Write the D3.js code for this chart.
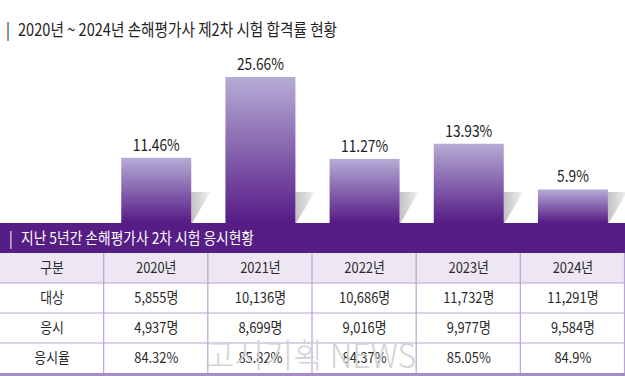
<!DOCTYPE html>
<html>
<head>
<meta charset="utf-8">
<script src="https://cdn.jsdelivr.net/npm/d3@7"></script>
<style>
  body { margin: 0; background: #fff; }
  svg { display: block; font-family: "Noto Sans CJK KR", "Noto Sans", sans-serif; }
</style>
</head>
<body>
<div id="chart"></div>
<script>
// data
const years = ["2020년", "2021년", "2022년", "2023년", "2024년"];
const passRates = [11.46, 25.66, 11.27, 13.93, 5.9];
const rowNames = ["대상", "응시", "응시율"];
const targets = ["5,855명", "10,136명", "10,686명", "11,732명", "11,291명"];
const takers = ["4,937명", "8,699명", "9,016명", "9,977명", "9,584명"];
const takeRates = ["84.32%", "85.82%", "84.37%", "85.05%", "84.9%"];
const headCol = "구분";
const title = "2020년 ~ 2024년 손해평가사 제2차 시험 합격률 현황";
const tableTitle = "지난 5년간 손해평가사 2차 시험 응시현황";
const mark = "고시기획 NEWS";

const W = 625, H = 376;
const purple = "#561d85";
const base = 223, bandH = 30, rowH = 30;
const colW = W / 6;

const svg = d3.select("#chart").append("svg")
  .attr("width", W).attr("height", H);

const defs = svg.append("defs");
const bg = defs.append("linearGradient").attr("id", "barGrad")
  .attr("x1", 0).attr("y1", 0).attr("x2", 0).attr("y2", 1);
bg.append("stop").attr("offset", "0%").attr("stop-color", "#b6acd6");
bg.append("stop").attr("offset", "100%").attr("stop-color", "#561b86");
const sg = defs.append("linearGradient").attr("id", "shGrad")
  .attr("x1", 0).attr("y1", 0).attr("x2", 1).attr("y2", 0);
sg.append("stop").attr("offset", "0%").attr("stop-color", "#c2c2c2");
sg.append("stop").attr("offset", "100%").attr("stop-color", "#f0f0f0");

// condensed text helper
const sq = 0.86;
function ctext(g, x, y, str, size, anchor, color) {
  return g.append("text")
    .attr("transform", `translate(${x},${y}) scale(${sq},1)`)
    .attr("text-anchor", anchor)
    .attr("font-size", size)
    .attr("fill", color)
    .text(str);
}

// title
ctext(svg, 6, 36, "|", 17, "start", "#222");
ctext(svg, 18, 36, title, 17, "start", "#222");

// scales
const x = d3.scaleBand().domain(years).range([colW, W])
  .paddingInner(0.328).paddingOuter(0.164);
const y = d3.scaleLinear().domain([0, 30]).range([base, base - 30 * 5.69]);

// shadows
svg.append("g").selectAll("polygon").data(years).join("polygon")
  .attr("points", d => {
    const r = x(d) + x.bandwidth();
    return [[r, base - 31], [r + 19, base - 31], [r + 1, base], [r, base]].join(" ");
  })
  .attr("fill", "url(#shGrad)");

// bars
svg.append("g").selectAll("rect").data(passRates).join("rect")
  .attr("x", (d, i) => x(years[i]))
  .attr("y", d => y(d))
  .attr("width", x.bandwidth())
  .attr("height", d => base - y(d))
  .attr("fill", "url(#barGrad)");

const lab = svg.append("g");
passRates.forEach((d, i) => {
  ctext(lab, x(years[i]) + x.bandwidth() / 2, y(d) - 7, d + "%", 16, "middle", "#222");
});

// purple band
svg.append("rect").attr("x", 0).attr("y", base).attr("width", W).attr("height", bandH)
  .attr("fill", purple);
ctext(svg, 9, base + 21, "|", 16, "start", "#fff");
ctext(svg, 21, base + 21, tableTitle, 16, "start", "#fff");

// table
const tTop = base + bandH;
const rows = [[headCol, ...years], [rowNames[0], ...targets], [rowNames[1], ...takers], [rowNames[2], ...takeRates]];
const tg = svg.append("g");
tg.append("rect").attr("x", 0).attr("y", tTop).attr("width", W).attr("height", rowH)
  .attr("fill", "#ece7f3");

// watermark
svg.append("text")
  .attr("transform", "translate(205,368) scale(0.94,1)")
  .attr("font-size", 34).attr("font-weight", 300)
  .attr("fill", "#d2d2d2")
  .text(mark);

// grid lines
for (let r = 1; r <= 3; r++) {
  tg.append("line").attr("x1", 0).attr("x2", W)
    .attr("y1", tTop + r * rowH).attr("y2", tTop + r * rowH)
    .attr("stroke", "#b9a2d6").attr("stroke-width", 1.2);
}
for (let c = 1; c <= 6; c++) {
  tg.append("line").attr("x1", c * colW - 0.5).attr("x2", c * colW - 0.5)
    .attr("y1", tTop).attr("y2", tTop + 4 * rowH)
    .attr("stroke", "#b9a2d6").attr("stroke-width", 1.2);
}
tg.append("rect").attr("x", 0).attr("y", tTop + 4 * rowH).attr("width", W).attr("height", 3)
  .attr("fill", "#a88bc9");

rows.forEach((row, ri) => {
  row.forEach((cell, ci) => {
    ctext(tg, colW * (ci + 0.5), tTop + ri * rowH + 20, cell, 15, "middle", "#2a2a2a");
  });
});
</script>
</body>
</html>
